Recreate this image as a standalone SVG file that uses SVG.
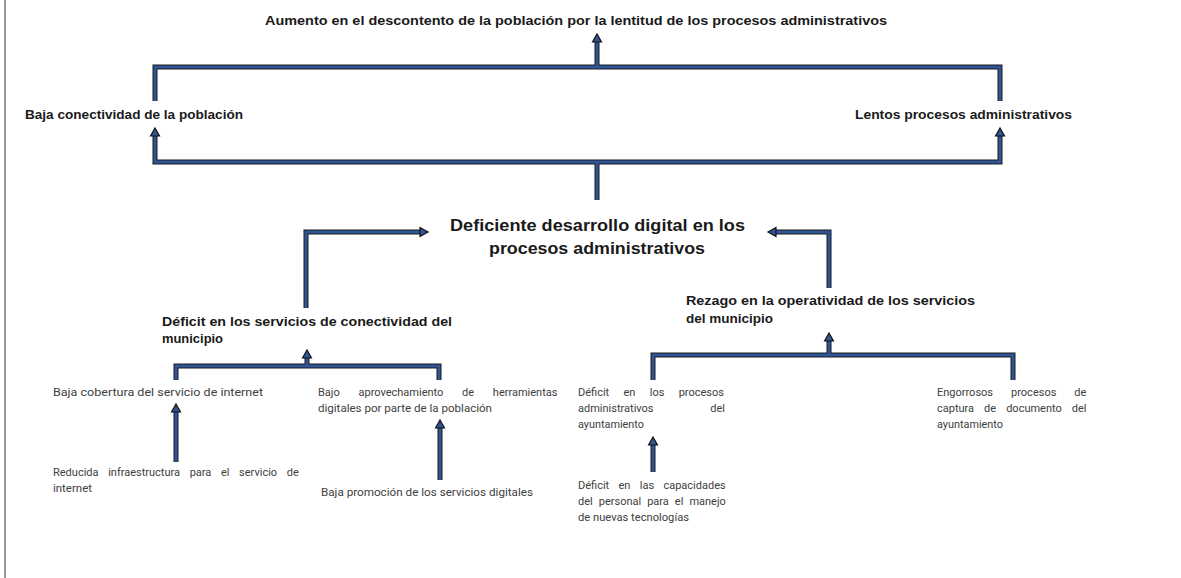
<svg xmlns="http://www.w3.org/2000/svg" width="1181" height="578" viewBox="0 0 1181 578">
<style>
.edge{fill:none;stroke:#1b1b1b;stroke-width:5;stroke-linejoin:miter;stroke-linecap:butt}
.edgein{fill:none;stroke:#2f5597;stroke-width:3;stroke-linejoin:miter;stroke-linecap:butt}
.head{fill:#2f5597;stroke:#111;stroke-width:1.2;stroke-linejoin:miter}
.b{font-family:"Liberation Sans",Arial,sans-serif;font-weight:bold;fill:#1a1a1a}
.t12{font-size:12px}
.t16{font-size:16.5px}
.s{font-family:Roboto,"Liberation Sans",sans-serif;font-size:11px;fill:#404040}
</style>
<rect width="1181" height="578" fill="#fff"/>
<line x1="5" y1="0" x2="5" y2="578" stroke="#555" stroke-width="1.2"/>
<g id="connectors">
<path class="edge" d="M155 101 V67 H1000 V101 M597 67 V42"/>
<path class="edgein" d="M155 101 V67 H1000 V101 M597 67 V42"/>
<path class="edge" d="M155 136 V162 H1000 V136 M597 162 V200"/>
<path class="edgein" d="M155 136 V162 H1000 V136 M597 162 V200"/>
<path class="edge" d="M306 308 V232 H420"/>
<path class="edgein" d="M306 308 V232 H420"/>
<path class="edge" d="M829 288 V232 H776"/>
<path class="edgein" d="M829 288 V232 H776"/>
<path class="edge" d="M176 380 V366 H439 V380 M307 366 V358"/>
<path class="edgein" d="M176 380 V366 H439 V380 M307 366 V358"/>
<path class="edge" d="M653 380 V355 H1013 V380 M829 355 V341"/>
<path class="edgein" d="M653 380 V355 H1013 V380 M829 355 V341"/>
<path class="edge" d="M176 462 V412"/>
<path class="edgein" d="M176 462 V412"/>
<path class="edge" d="M440 480 V428"/>
<path class="edgein" d="M440 480 V428"/>
<path class="edge" d="M653 472 V445"/>
<path class="edgein" d="M653 472 V445"/>
<polygon class="head" points="592.5,42 597,34 601.5,42"/>
<polygon class="head" points="150.5,136 155,128 159.5,136"/>
<polygon class="head" points="995.5,136 1000,128 1004.5,136"/>
<polygon class="head" points="420,227.5 428,232 420,236.5"/>
<polygon class="head" points="776,227.5 768,232 776,236.5"/>
<polygon class="head" points="302.5,358 307,350 311.5,358"/>
<polygon class="head" points="824.5,341 829,333 833.5,341"/>
<polygon class="head" points="171.5,412 176,404 180.5,412"/>
<polygon class="head" points="435.5,428 440,420 444.5,428"/>
<polygon class="head" points="648.5,445 653,437 657.5,445"/>
</g>
<g id="n-efecto-final"><text class="b t12" x="265" y="25" textLength="622" lengthAdjust="spacingAndGlyphs">Aumento en el descontento de la población por la lentitud de los procesos administrativos</text></g>
<g id="n-baja-conectividad"><text class="b t12" x="25" y="119" textLength="218" lengthAdjust="spacingAndGlyphs">Baja conectividad de la población</text></g>
<g id="n-lentos-procesos"><text class="b t12" x="855" y="119" textLength="217" lengthAdjust="spacingAndGlyphs">Lentos procesos administrativos</text></g>
<g id="n-problema-central">
<text class="b t16" x="450" y="231" textLength="295" lengthAdjust="spacingAndGlyphs">Deficiente desarrollo digital en los</text>
<text class="b t16" x="489" y="254" textLength="216" lengthAdjust="spacingAndGlyphs">procesos administrativos</text>
</g>
<g id="n-deficit-servicios">
<text class="b t12" x="162" y="326" textLength="290" lengthAdjust="spacingAndGlyphs">Déficit en  los servicios de conectividad del</text>
<text class="b t12" x="162" y="343" textLength="61" lengthAdjust="spacingAndGlyphs">municipio</text>
</g>
<g id="n-rezago">
<text class="b t12" x="686" y="305" textLength="289" lengthAdjust="spacingAndGlyphs">Rezago en la operatividad de los servicios</text>
<text class="b t12" x="686" y="323" textLength="87" lengthAdjust="spacingAndGlyphs">del municipio</text>
</g>
<g id="n-baja-cobertura"><text class="s" x="53" y="396" textLength="210" lengthAdjust="spacingAndGlyphs">Baja cobertura  del servicio de internet</text></g>
<g id="n-bajo-aprovechamiento">
<text class="s" x="318" y="396" word-spacing="16">Bajo aprovechamiento de herramientas</text>
<text class="s" x="318" y="412" textLength="174" lengthAdjust="spacingAndGlyphs">digitales por parte de la población</text>
</g>
<g id="n-reducida-infra">
<text class="s" x="53" y="476" word-spacing="6.9">Reducida infraestructura para el servicio de</text>
<text class="s" x="53" y="492" textLength="39" lengthAdjust="spacingAndGlyphs">internet</text>
</g>
<g id="n-baja-promocion"><text class="s" x="321" y="496" textLength="212" lengthAdjust="spacingAndGlyphs">Baja promoción  de los servicios digitales</text></g>
<g id="n-deficit-procesos">
<text class="s" x="578" y="396" word-spacing="11.6">Déficit en los procesos</text>
<text class="s" x="578" y="412" word-spacing="54">administrativos del</text>
<text class="s" x="578" y="428" textLength="66" lengthAdjust="spacingAndGlyphs">ayuntamiento</text>
</g>
<g id="n-deficit-capacidades">
<text class="s" x="578" y="489" word-spacing="6.6">Déficit en las capacidades</text>
<text class="s" x="578" y="505" word-spacing="3.3">del personal para el manejo</text>
<text class="s" x="578" y="521" textLength="111" lengthAdjust="spacingAndGlyphs">de nuevas tecnologías</text>
</g>
<g id="n-engorrosos">
<text class="s" x="937" y="396" word-spacing="15.3">Engorrosos procesos de</text>
<text class="s" x="937" y="412" word-spacing="7.3">captura de documento del</text>
<text class="s" x="937" y="428" textLength="66" lengthAdjust="spacingAndGlyphs">ayuntamiento</text>
</g>
</svg>
